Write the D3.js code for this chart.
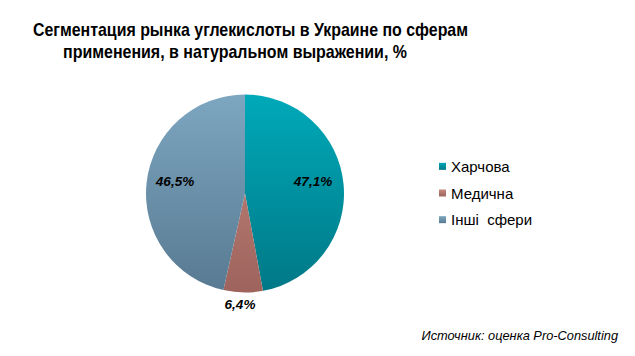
<!DOCTYPE html>
<html><head><meta charset="utf-8">
<script src="https://cdn.jsdelivr.net/npm/d3@7"></script>
<style>body{margin:0;background:#fff;}svg{display:block;font-family:"Liberation Sans",Arial,sans-serif;}</style>
</head><body>
<svg id="c" width="635" height="356"></svg>
<script>
const categories = ["Харчова", "Медична", "Інші  сфери"];
const values = [47.1, 6.4, 46.5];
const valueLabels = ["47,1%", "6,4%", "46,5%"];
const titleLines = ["Сегментация рынка углекислоты в Украине по сферам", "применения, в натуральном выражении, %"];
const sourceText = "Источник: оценка Pro-Consulting";
const colorsTop = ["#00A9B9", "#C48A80", "#7DA6C0"];
const colorsBottom = ["#007886", "#9E635C", "#587A92"];

const svg = d3.select("#c");
const cx = 245, cy = 193.5, r = 99;
const defs = svg.append("defs");
categories.forEach((c, i) => {
  const g = defs.append("linearGradient").attr("id", "g" + i)
    .attr("gradientUnits", "userSpaceOnUse")
    .attr("x1", 0).attr("y1", -r).attr("x2", 0).attr("y2", r);
  g.append("stop").attr("offset", "0%").attr("stop-color", colorsTop[i]);
  g.append("stop").attr("offset", "100%").attr("stop-color", colorsBottom[i]);
  const lg = defs.append("linearGradient").attr("id", "l" + i)
    .attr("x1", 0).attr("y1", 0).attr("x2", 0).attr("y2", 1);
  lg.append("stop").attr("offset", "0%").attr("stop-color", colorsTop[i]);
  lg.append("stop").attr("offset", "100%").attr("stop-color", colorsBottom[i]);
});

// title
svg.append("text").attr("x", 33).attr("y", 36)
  .attr("font-size", 19).attr("font-weight", "bold").attr("fill", "#000")
  .attr("textLength", 435).attr("lengthAdjust", "spacingAndGlyphs").text(titleLines[0]);
svg.append("text").attr("x", 63).attr("y", 58)
  .attr("font-size", 19).attr("font-weight", "bold").attr("fill", "#000")
  .attr("textLength", 344).attr("lengthAdjust", "spacingAndGlyphs").text(titleLines[1]);

const pie = d3.pie().sort(null).value(d => d)(values);
const arc = d3.arc().innerRadius(0).outerRadius(r);
const gp = svg.append("g").attr("transform", `translate(${cx},${cy})`);
gp.selectAll("path").data(pie).join("path")
  .attr("d", arc)
  .attr("fill", (d, i) => `url(#g${i})`);

const labelPos = [[68, -8], [-5, 115], [-70, -8]];
gp.selectAll("text.v").data(pie).join("text").attr("class", "v")
  .attr("x", (d, i) => labelPos[i][0]).attr("y", (d, i) => labelPos[i][1])
  .attr("text-anchor", "middle")
  .attr("font-size", 13.5).attr("font-weight", "bold").attr("font-style", "italic")
  .attr("fill", "#000").text((d, i) => valueLabels[i]);

// legend
const ly = d3.scaleBand().domain(categories).range([153, 233]);
const lg = svg.append("g");
categories.forEach((c, i) => {
  const y = ly(c) + ly.bandwidth() / 2;
  lg.append("rect").attr("x", 439).attr("y", y - 3.5).attr("width", 7).attr("height", 7)
    .attr("fill", `url(#l${i})`);
  lg.append("text").attr("x", 451).attr("y", y + 5.5).attr("font-size", 15)
    .attr("fill", "#000").style("white-space", "pre").text(c);
});

svg.append("text").attr("x", 618).attr("y", 340).attr("text-anchor", "end")
  .attr("font-size", 12.8).attr("font-style", "italic").attr("fill", "#000").text(sourceText);
</script>
</body></html>
